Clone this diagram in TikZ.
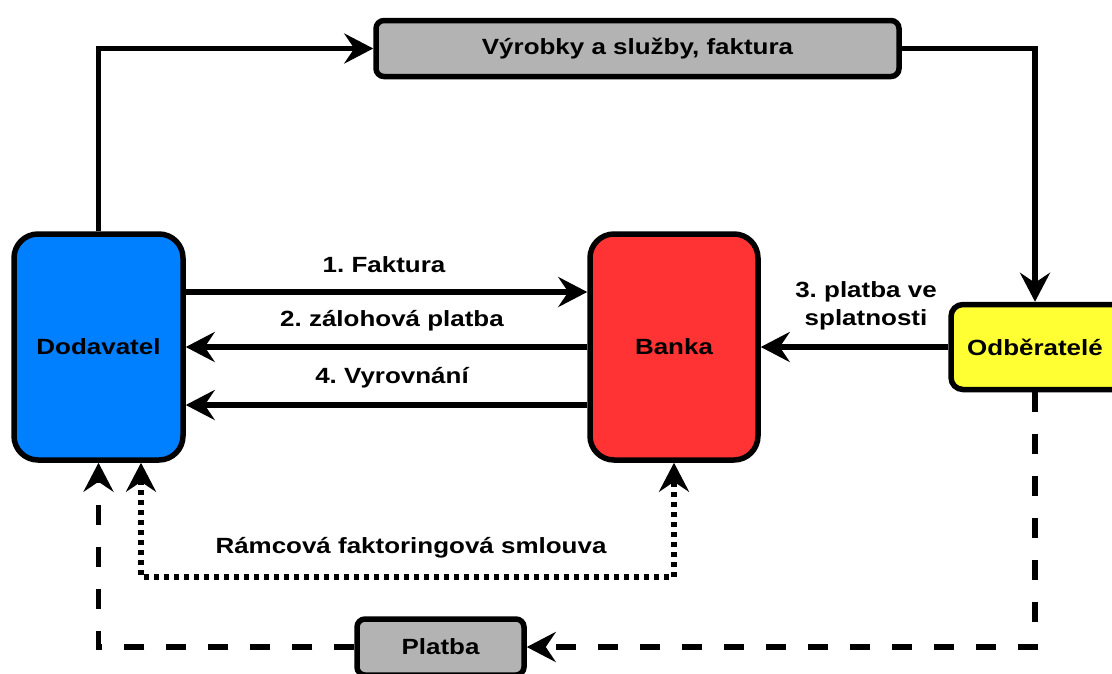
\documentclass[tikz,border=0pt]{standalone}
\usepackage{fontspec}
\setmainfont[FakeStretch=1.18]{Liberation Sans}
\usetikzlibrary{arrows.meta}
\definecolor{cblue}{RGB}{0,127,255}
\definecolor{cred}{RGB}{255,51,51}
\definecolor{cyellow}{RGB}{255,255,51}
\definecolor{cgray}{RGB}{179,179,179}
\tikzset{
  box/.style={draw=black, line width=5.5pt, inner sep=0pt, font=\fontsize{22}{28}\selectfont\bfseries},
  conn/.style={line width=5.5pt, -{Stealth[length=29pt,width=30pt,inset=10pt]}},
  dashconn/.style={conn, dash pattern=on 20pt off 22pt},
  dotconn/.style={line width=5.5pt, dash pattern=on 5pt off 5pt,
     {Stealth[length=29pt,width=30pt,inset=10pt]}-{Stealth[length=29pt,width=30pt,inset=10pt]}},
  lbl/.style={font=\fontsize{22}{28}\selectfont\bfseries, align=center, inner sep=0pt}
}
\begin{document}
\frenchspacing
\begin{tikzpicture}[x=1pt,y=-1pt]
\useasboundingbox (0,0) rectangle (1112,673);
\node[box, fill=cblue, rounded corners=24pt, minimum width=169pt, minimum height=226pt] (dod) at (98.5,347) {Dodavatel};
\node[box, fill=cred, rounded corners=24pt, minimum width=168pt, minimum height=226pt] (bank) at (674,347) {Banka};
\node[box, fill=cyellow, rounded corners=12pt, minimum width=180pt, minimum height=85pt] (odb) at (1041,347) {\kern-12pt Odběratelé};
\node[box, fill=cgray, rounded corners=8pt, minimum width=523pt, minimum height=56pt] (vyr) at (637.5,48.5) {Výrobky a služby, faktura};
\node[box, fill=cgray, rounded corners=8pt, minimum width=167pt, minimum height=56pt] (plat) at (440.5,647) {Platba};

\draw[conn] (dod.north) |- (vyr.west);
\draw[conn] (vyr.east) -| ([xshift=-6pt]odb.north);
\draw[conn] ([yshift=55pt]dod.east) -- ([yshift=55pt]bank.west);
\draw[conn] (bank.west) -- (dod.east);
\draw[conn] ([yshift=-58pt]bank.west) -- ([yshift=-58pt]dod.east);
\draw[conn] (odb.west) -- (bank.east);
\draw[dashconn] ([xshift=-6pt]odb.south) |- (plat.east);
\draw[dashconn] (plat.west) -| (dod.south);
\coordinate (dc) at (141,577);
\draw[dotconn] (dod.south -| dc) -- (dc) -| (bank.south);

\node[lbl] (l1) at (384,265) {1. Faktura};
\node[lbl] (l2) at (392,321) {2. zálohová platba};
\node[lbl] (l4) at (392,378) {4. Vyrovnání};
\node[lbl] (l3) at (866,306) {3. platba ve\\splatnosti};
\node[lbl] (l5) at (411,548) {Rámcová faktoringová smlouva};
\end{tikzpicture}
\end{document}
